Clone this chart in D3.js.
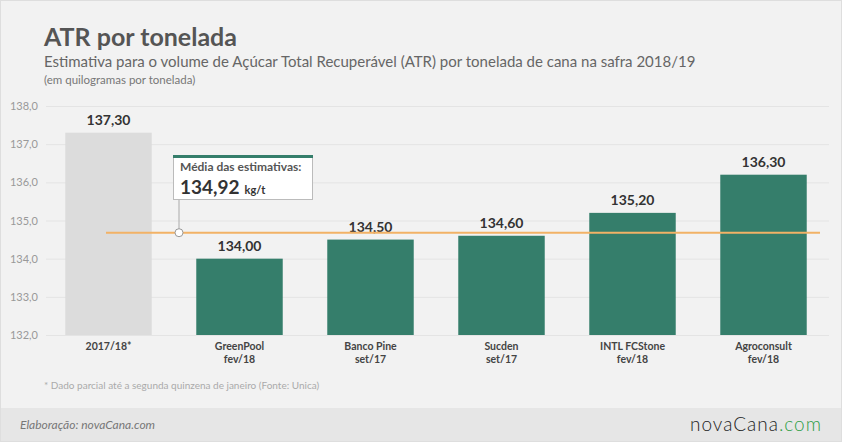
<!DOCTYPE html>
<html><head><meta charset="utf-8">
<script src="https://cdn.jsdelivr.net/npm/d3@7"></script>
<style>body{margin:0;background:#f2f2f2;font-family:Lato,"Open Sans",sans-serif}</style>
</head><body><svg id="c" width="842" height="442"></svg>
<script>
const categories = ["2017/18*","GreenPool|fev/18","Banco Pine|set/17","Sucden|set/17","INTL FCStone|fev/18","Agroconsult|fev/18"];
const values = [137.3,134.0,134.5,134.6,135.2,136.2];
const valueLabels = ["137,30","134,00","134,50","134,60","135,20","136,30"];
const yTicks = [132,133,134,135,136,137,138];
const meanLine = 134.68;
const meanLabel = "134,92";

const svg = d3.select("#c");
svg.append("rect").attr("x",0.5).attr("y",0.5).attr("width",841).attr("height",441).attr("fill","#f2f2f2").attr("stroke","#dedede");
svg.append("rect").attr("x",1).attr("y",408).attr("width",840).attr("height",33).attr("fill","#e6e6e6");

const x = d3.scaleBand().domain(categories).range([43,829]).paddingInner(0.34).paddingOuter(0.17);
const y = d3.scaleLinear().domain([132,138]).range([335,106]);

svg.append("text").attr("x",44).attr("y",46).attr("font-size",25).attr("font-weight","bold").attr("fill","#555").text("ATR por tonelada");
svg.append("text").attr("x",44).attr("y",67).attr("font-size",15).attr("fill","#666").text("Estimativa para o volume de Açúcar Total Recuperável (ATR) por tonelada de cana na safra 2018/19");
svg.append("text").attr("x",44).attr("y",84).attr("font-size",11.5).attr("fill","#777").text("(em quilogramas por tonelada)");

const ax = svg.append("g").attr("transform","translate(46,0)").call(d3.axisLeft(y).tickValues(yTicks).tickSize(-783).tickFormat(d=>d3.format(".1f")(d).replace(".",",")));
ax.select(".domain").remove();
ax.selectAll("line").attr("stroke","#e4e4e4");
ax.selectAll("text").attr("x",-8).attr("fill","#999").attr("font-size",11).attr("font-family","Lato,sans-serif");

svg.selectAll(".bar").data(values).enter().append("rect")
 .attr("x",(d,i)=>x(categories[i])).attr("width",x.bandwidth())
 .attr("y",d=>y(d)).attr("height",d=>y(132)-y(d))
 .attr("fill",(d,i)=>i===0?"#dcdcdc":"#357e6b");

svg.selectAll(".vl").data(values).enter().append("text")
 .attr("x",(d,i)=>x(categories[i])+x.bandwidth()/2).attr("y",d=>y(d)-8)
 .attr("text-anchor","middle").attr("font-size",14).attr("font-weight","bold").attr("fill","#333")
 .text((d,i)=>valueLabels[i]);

categories.forEach((c,i)=>{
 const t = svg.append("text").attr("x",x(c)+x.bandwidth()/2).attr("y",350).attr("text-anchor","middle").attr("font-size",10.5).attr("font-weight","bold").attr("fill","#444");
 c.split("|").forEach((s,j)=>t.append("tspan").attr("x",x(c)+x.bandwidth()/2).attr("dy",j?13:0).text(s));
});

const my = y(meanLine);
svg.append("line").attr("x1",106).attr("x2",820).attr("y1",my).attr("y2",my).attr("stroke","#f2b266").attr("stroke-width",2);
svg.append("line").attr("x1",179).attr("x2",179).attr("y1",199).attr("y2",my).attr("stroke","#aaa");
svg.append("circle").attr("cx",179).attr("cy",my).attr("r",4).attr("fill","#fff").attr("stroke","#999");
svg.append("rect").attr("x",173.5).attr("y",156.5).attr("width",139).attr("height",43).attr("fill","#fff").attr("stroke","#bbb");
svg.append("rect").attr("x",173).attr("y",155).attr("width",140).attr("height",3).attr("fill","#357e6b");
svg.append("text").attr("x",180).attr("y",171).attr("font-size",12).attr("font-weight","bold").attr("fill","#555").text("Média das estimativas:");
const mt = svg.append("text").attr("x",180).attr("y",194).attr("fill","#333").attr("font-weight","bold");
mt.append("tspan").attr("font-size",19).text(meanLabel);
mt.append("tspan").attr("font-size",11).attr("dx",5).text("kg/t");

svg.append("text").attr("x",44).attr("y",389).attr("font-size",10).attr("fill","#aaa").text("* Dado parcial até a segunda quinzena de janeiro (Fonte: Unica)");
svg.append("text").attr("x",20).attr("y",429).attr("font-size",12).attr("font-style","italic").attr("fill","#777").text("Elaboração: novaCana.com");
const lg = svg.append("text").attr("x",822).attr("y",431).attr("text-anchor","end").attr("font-size",19).attr("font-weight",300).attr("fill","#222").attr("letter-spacing",1);
lg.append("tspan").text("novaCana");
lg.append("tspan").attr("fill","#2e9e46").text(".com");
</script></body></html>
